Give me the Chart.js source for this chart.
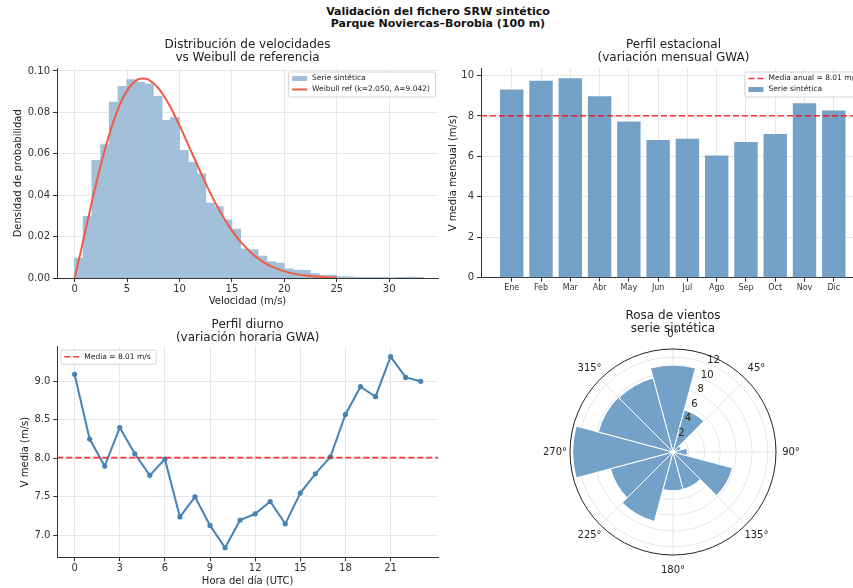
<!DOCTYPE html>
<html>
<head>
<meta charset="utf-8">
<script src="https://cdn.jsdelivr.net/npm/chart.js@4.4.1/dist/chart.umd.min.js"></script>
<style>
html, body { margin: 0; padding: 0; background: #fff; }
body { width: 853px; height: 588px; overflow: hidden; position: relative; font-family: "DejaVu Sans", sans-serif; }
canvas { position: absolute; }
#suptitle { position: absolute; left: 0; top: 5.5px; width: 876px; text-align: center; font-weight: bold; font-size: 11px; line-height: 12.5px; color: #111; }
</style>
</head>
<body>
<div id="suptitle">Validación del fichero SRW sintético<br>Parque Noviercas–Borobia (100 m)</div>
<canvas id="c1" width="445" height="285" style="left:0;top:30px"></canvas>
<canvas id="c2" width="470" height="285" style="left:420px;top:30px"></canvas>
<canvas id="c3" width="445" height="278" style="left:0;top:310px"></canvas>
<canvas id="c4" width="270" height="288" style="left:540px;top:300px"></canvas>
<script>
// --- histogram of speeds (density per bin) + reference Weibull
var binWidth = 0.832;
var histDensity = [0.0095, 0.0296, 0.0567, 0.0643, 0.0849, 0.0924, 0.0957, 0.0945, 0.0937, 0.0876,
                   0.0760, 0.0774, 0.0615, 0.0557, 0.0502, 0.0361, 0.0344, 0.0280, 0.0235, 0.0139,
                   0.0136, 0.0105, 0.0078, 0.0071, 0.0043, 0.0037, 0.0036, 0.0020, 0.0012, 0.0013,
                   0.0006, 0.0004, 0.0002, 0.0001, 0.0001, 0.0001, 0.0000, 0.0001, 0.0003, 0.0001];
var weibullX = [0, 0.5, 1, 2, 3, 4, 5, 6, 6.5, 7, 8, 9, 10, 11, 12, 13, 14, 15, 16, 17, 18, 19, 20, 21, 22, 23, 24, 25];
var weibullY = [0, 0.0108, 0.0222, 0.0444, 0.0641, 0.0798, 0.0905, 0.0958, 0.0964, 0.0959, 0.0916, 0.0838, 0.0737,
                0.0625, 0.0512, 0.0404, 0.0310, 0.0229, 0.0165, 0.0115, 0.0077, 0.0051, 0.0032, 0.0020, 0.0012,
                0.0007, 0.0004, 0.0002];
var speedTicks = [0, 5, 10, 15, 20, 25, 30];
var densityTicks = [0, 0.02, 0.04, 0.06, 0.08, 0.10];

// --- seasonal profile
var months = ['Ene', 'Feb', 'Mar', 'Abr', 'May', 'Jun', 'Jul', 'Ago', 'Sep', 'Oct', 'Nov', 'Dic'];
var monthlyMean = [9.31, 9.75, 9.87, 8.98, 7.73, 6.81, 6.88, 6.04, 6.71, 7.11, 8.63, 8.27];
var monthlyTicks = [0, 2, 4, 6, 8, 10];
var annualMean = 8.01;

// --- diurnal profile
var hours = [0, 1, 2, 3, 4, 5, 6, 7, 8, 9, 10, 11, 12, 13, 14, 15, 16, 17, 18, 19, 20, 21, 22, 23];
var hourlyMean = [9.09, 8.25, 7.90, 8.40, 8.06, 7.78, 7.99, 7.24, 7.50, 7.13, 6.84, 7.20,
                  7.28, 7.44, 7.15, 7.55, 7.80, 8.02, 8.57, 8.93, 8.80, 9.32, 9.05, 9.00];
var hourTicks = [0, 3, 6, 9, 12, 15, 18, 21];
var hourlyTicks = [7.0, 7.5, 8.0, 8.5, 9.0];

// --- wind rose (12 sectors, clockwise from N)
var roseDirs = [0, 30, 60, 90, 120, 150, 180, 210, 240, 270, 300, 330];
var roseFreq = [11.0, 5.5, 1.05, 1.8, 7.8, 4.9, 4.9, 9.1, 8.2, 12.7, 9.8, 9.7];
var roseRings = [2, 4, 6, 8, 10, 12];
var roseAngles = [0, 45, 90, 135, 180, 225, 270, 315];

Chart.defaults.font.family = '"DejaVu Sans", sans-serif';
Chart.defaults.color = '#333';
Chart.defaults.animation = false;

var GRID = '#e6e6e6';
var SPINE = '#333';
var HIST = '#a2c0d9';   // steelblue @ 0.5 on white
var BAR = '#74a1c7';    // steelblue @ 0.75 on white
var BLUE = '#4682b4';
var RED = 'rgba(255,0,0,0.8)';
var WEIB = '#f35a42';

function axis(o) {
    return {
        type: 'linear',
        min: o.min, max: o.max,
        offset: false,
        afterBuildTicks: function (s) { s.ticks = o.ticks.map(function (v) { return {value: v}; }); },
        afterFit: function (s) {
            if (o.w !== undefined) s.width = o.w;
            if (o.h !== undefined) s.height = o.h;
        },
        ticks: { autoSkip: false, maxRotation: 0, padding: o.tickPad, font: {size: o.tickSize || 10}, color: '#333', callback: o.fmt },
        grid: { offset: false, color: GRID, lineWidth: 1, tickLength: 4, tickColor: SPINE, tickWidth: 1 },
        border: { display: true, color: SPINE, width: 1 },
        title: o.title ? { display: true, text: o.title, font: {size: 10}, color: '#222', padding: o.titlePad } : {display: false}
    };
}

function titleOpts(lines, padBottom) {
    return { display: true, text: lines, fullSize: false, color: '#222',
             font: {size: 12, weight: 'normal', lineHeight: 13 / 12},
             padding: {top: 8.5, bottom: padBottom} };
}

// matplotlib-ish legend box drawn inside the axes
var mplLegend = {
    id: 'mplLegend',
    afterDatasetsDraw: function (chart, args, o) {
        if (!o || !o.order) return;
        var ctx = chart.ctx, a = chart.chartArea;
        var items = o.order.map(function (i) { return chart.data.datasets[i]; });
        ctx.save();
        ctx.font = '7.5px "DejaVu Sans"';
        var tw = Math.max.apply(null, items.map(function (d) { return ctx.measureText(d.label).width; }));
        var w = 24 + tw + 5, h = items.length * 11 + 3;
        var x0 = o.loc === 'ul' ? a.left + 3 : a.right - 3 - w;
        var y0 = a.top + 3;
        ctx.fillStyle = 'rgba(255,255,255,0.85)';
        ctx.strokeStyle = '#d4d4d4';
        ctx.lineWidth = 1;
        ctx.beginPath();
        ctx.roundRect(x0 + 0.5, y0 + 0.5, w, h, 2);
        ctx.fill();
        ctx.stroke();
        items.forEach(function (d, i) {
            var cy = y0 + 7 + i * 11;
            if (d.type === 'bar') {
                ctx.fillStyle = d.backgroundColor;
                ctx.fillRect(x0 + 4, cy - 2.5, 15, 5);
            } else {
                ctx.strokeStyle = d.borderColor;
                ctx.lineWidth = d.borderWidth;
                ctx.setLineDash(d.borderDash || []);
                ctx.beginPath();
                ctx.moveTo(x0 + 4, cy);
                ctx.lineTo(x0 + 19, cy);
                ctx.stroke();
                ctx.setLineDash([]);
            }
            ctx.fillStyle = '#222';
            ctx.textBaseline = 'middle';
            ctx.textAlign = 'left';
            ctx.fillText(d.label, x0 + 24, cy);
        });
        ctx.restore();
    }
};

// ---------- 1. histogram vs Weibull
new Chart(document.getElementById('c1'), {
    type: 'bar',
    data: {
        datasets: [{
            type: 'bar',
            label: 'Serie sintética',
            data: histDensity.map(function (v, i) { return {x: (i + 0.5) * binWidth, y: v}; }),
            backgroundColor: HIST,
            borderWidth: 0,
            inflateAmount: 0.6,
            barPercentage: 1,
            categoryPercentage: 1,
            order: 1
        }, {
            type: 'line',
            label: 'Weibull ref (k=2.050, A=9.042)',
            data: weibullX.map(function (x, i) { return {x: x, y: weibullY[i]}; }),
            borderColor: WEIB,
            borderWidth: 2,
            pointRadius: 0,
            cubicInterpolationMode: 'monotone',
            order: 0
        }]
    },
    options: {
        responsive: false,
        layout: {padding: {left: 0, right: 7, top: 0, bottom: 0}},
        plugins: {
            legend: {display: false}, tooltip: {enabled: false},
            title: titleOpts(['Distribución de velocidades', 'vs Weibull de referencia'], 4),
            mplLegend: {loc: 'ur', order: [0, 1]}
        },
        scales: {
            x: axis({min: -1.68, max: 34.65, ticks: speedTicks, h: 37, tickPad: 1, fmt: function (v) { return String(v); },
                     title: 'Velocidad (m/s)', titlePad: {top: 0, bottom: 8}}),
            y: axis({min: 0, max: 0.1012, ticks: densityTicks, w: 57, tickPad: 3, fmt: function (v) { return v.toFixed(2); },
                     title: 'Densidad de probabilidad', titlePad: {top: 12, bottom: 0}})
        }
    },
    plugins: [mplLegend]
});

// ---------- 2. seasonal profile
new Chart(document.getElementById('c2'), {
    type: 'bar',
    data: {
        datasets: [{
            type: 'line',
            label: 'Media anual = ' + annualMean.toFixed(2) + ' m/s',
            data: [{x: -1.05, y: annualMean}, {x: 12.1, y: annualMean}],
            borderColor: RED,
            borderWidth: 1.6,
            borderDash: [6, 3],
            pointRadius: 0,
            order: 0
        }, {
            type: 'bar',
            label: 'Serie sintética',
            data: monthlyMean.map(function (v, i) { return {x: i, y: v}; }),
            backgroundColor: BAR,
            borderWidth: 0,
            barPercentage: 0.8,
            categoryPercentage: 1,
            order: 1
        }]
    },
    options: {
        responsive: false,
        layout: {padding: {left: 0, right: 24, top: 0, bottom: 0}},
        plugins: {
            legend: {display: false}, tooltip: {enabled: false},
            title: titleOpts(['Perfil estacional', '(variación mensual GWA)'], 4),
            mplLegend: {loc: 'ur', order: [0, 1]}
        },
        scales: {
            x: axis({min: -1.05, max: 12.1, ticks: months.map(function (m, i) { return i; }), h: 37.3, tickPad: 1.5, tickSize: 8,
                     fmt: function (v) { return months[v]; }}),
            y: axis({min: 0, max: 10.35, ticks: monthlyTicks, w: 61, tickPad: 3, fmt: function (v) { return String(v); },
                     title: 'V media mensual (m/s)', titlePad: {top: 27, bottom: 0}})
        }
    },
    plugins: [mplLegend]
});

// ---------- 3. diurnal profile
new Chart(document.getElementById('c3'), {
    type: 'line',
    data: {
        datasets: [{
            type: 'line',
            label: 'Perfil horario',
            data: hours.map(function (h, i) { return {x: h, y: hourlyMean[i]}; }),
            borderColor: BLUE,
            borderWidth: 2,
            pointRadius: 2.6,
            pointBackgroundColor: BLUE,
            pointBorderWidth: 0,
            order: 1
        }, {
            type: 'line',
            label: 'Media = ' + annualMean.toFixed(2) + ' m/s',
            data: [{x: -1.15, y: annualMean}, {x: 24.15, y: annualMean}],
            borderColor: RED,
            borderWidth: 1.6,
            borderDash: [6, 3],
            pointRadius: 0,
            order: 0
        }]
    },
    options: {
        responsive: false,
        layout: {padding: {left: 0, right: 7, top: 0, bottom: 0}},
        plugins: {
            legend: {display: false}, tooltip: {enabled: false},
            title: titleOpts(['Perfil diurno', '(variación horaria GWA)'], 2.2),
            mplLegend: {loc: 'ul', order: [1]}
        },
        scales: {
            x: axis({min: -1.15, max: 24.15, ticks: hourTicks, h: 30.7, tickPad: 1, fmt: function (v) { return String(v); },
                     title: 'Hora del día (UTC)', titlePad: {top: 0, bottom: 0.3}}),
            y: axis({min: 6.716, max: 9.449, ticks: hourlyTicks, w: 57.3, tickPad: 3, fmt: function (v) { return v.toFixed(1); },
                     title: 'V media (m/s)', titlePad: {top: 19, bottom: 0}})
        }
    },
    plugins: [mplLegend]
});

// ---------- 4. wind rose
var roseDecor = {
    id: 'roseDecor',
    beforeDatasetsDraw: function (chart) {
        var s = chart.scales.r, ctx = chart.ctx;
        var R = s.drawingArea;
        ctx.save();
        ctx.strokeStyle = GRID;
        ctx.lineWidth = 1;
        roseAngles.forEach(function (d) {
            var t = d * Math.PI / 180;
            ctx.beginPath();
            ctx.moveTo(s.xCenter, s.yCenter);
            ctx.lineTo(s.xCenter + R * Math.sin(t), s.yCenter - R * Math.cos(t));
            ctx.stroke();
        });
        ctx.restore();
    },
    afterDatasetsDraw: function (chart) {
        var s = chart.scales.r, ctx = chart.ctx;
        var R = s.drawingArea;
        ctx.save();
        ctx.strokeStyle = '#222';
        ctx.lineWidth = 1;
        ctx.beginPath();
        ctx.arc(s.xCenter, s.yCenter, R, 0, 2 * Math.PI);
        ctx.stroke();
        ctx.fillStyle = '#222';
        ctx.font = '10px "DejaVu Sans"';
        ctx.textAlign = 'center';
        ctx.textBaseline = 'middle';
        roseAngles.forEach(function (d) {
            var t = d * Math.PI / 180;
            ctx.fillText(d + '°', s.xCenter + (R + 15) * Math.sin(t), s.yCenter - (R + 15) * Math.cos(t));
        });
        var ta = 24 * Math.PI / 180;
        roseRings.forEach(function (v) {
            var r = s.getDistanceFromCenterForValue(v) + 5;
            ctx.fillText(String(v), s.xCenter + r * Math.sin(ta), s.yCenter - r * Math.cos(ta));
        });
        ctx.restore();
    }
};

new Chart(document.getElementById('c4'), {
    type: 'polarArea',
    data: {
        labels: roseDirs.map(function (d) { return d + '°'; }),
        datasets: [{
            label: 'Serie sintética',
            data: roseFreq,
            backgroundColor: BAR,
            borderColor: '#fff',
            borderWidth: 1
        }]
    },
    options: {
        responsive: false,
        layout: {padding: {left: 30, right: 34, top: 0, bottom: 33}},
        plugins: {
            legend: {display: false}, tooltip: {enabled: false},
            title: { display: true, text: ['Rosa de vientos', 'serie sintética'], fullSize: false, color: '#222',
                     font: {size: 12, weight: 'normal', lineHeight: 13 / 12}, padding: {top: 9.5, bottom: 13.5} }
        },
        scales: {
            r: {
                min: 0, max: 13.04,
                startAngle: -15,
                afterBuildTicks: function (s) { s.ticks = [0].concat(roseRings).map(function (v) { return {value: v}; }); },
                ticks: {display: false},
                grid: {color: GRID, circular: true},
                angleLines: {display: false},
                pointLabels: {display: false}
            }
        }
    },
    plugins: [roseDecor]
});
</script>
</body>
</html>
